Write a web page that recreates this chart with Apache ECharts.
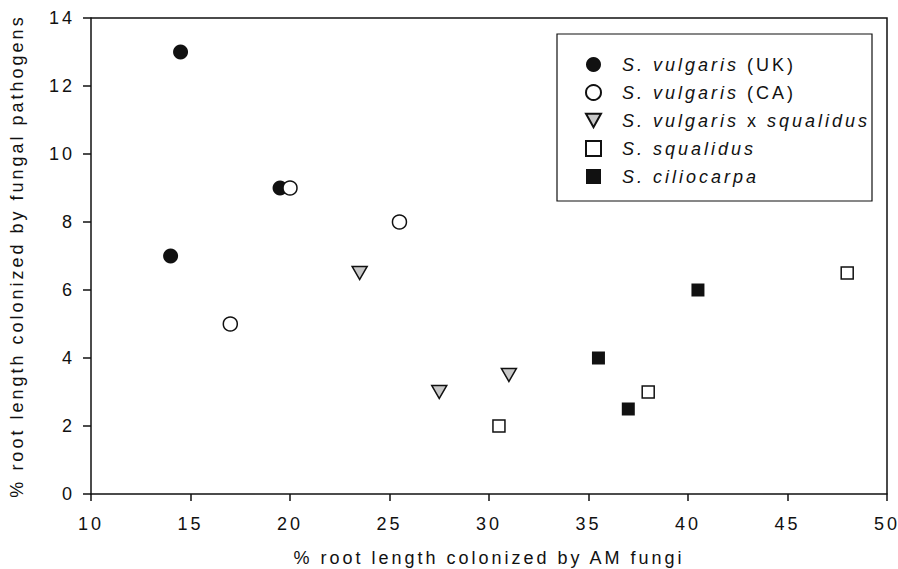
<!DOCTYPE html>
<html>
<head>
<meta charset="utf-8">
<script src="https://cdn.jsdelivr.net/npm/echarts@6/dist/echarts.min.js"></script>
<style>
  html, body { margin: 0; padding: 0; background: #fff; }
  #chart { width: 898px; height: 569px; }
  /* the original figure uses wide letter spacing */
  #chart text { letter-spacing: 3px; }
</style>
</head>
<body>
<div id="chart"></div>
<script>
// values: [AM fungi %, fungal pathogens %]
var vulgarisUK = [[14.5, 13], [19.5, 9], [14, 7]];
var vulgarisCA = [[20, 9], [25.5, 8], [17, 5]];
var hybrid = [[23.5, 6.5], [27.5, 3], [31, 3.5]];
var squalidus = [[30.5, 2], [38, 3], [48, 6.5]];
var ciliocarpa = [[35.5, 4], [37, 2.5], [40.5, 6]];

var xTicks = [10, 15, 20, 25, 30, 35, 40, 45, 50];
var yTicks = [0, 2, 4, 6, 8, 10, 12, 14];

var font = '"Liberation Sans", Arial, sans-serif';
var spacing = '3px';
var downTri = 'path://M0,0 L10,0 L5,9 Z';

// measure text with the same letter spacing so rich text pieces line up
var measureCtx = document.createElement('canvas').getContext('2d');
echarts.setPlatformAPI({
  measureText: function (text, f) {
    measureCtx.font = f || '12px sans-serif';
    measureCtx.letterSpacing = spacing;
    return measureCtx.measureText(text);
  }
});

var chartDom = document.getElementById('chart');
var myChart = echarts.init(chartDom, null, { renderer: 'svg' });

function mk(name, data, symbol, size, fill) {
  return {
    name: name,
    type: 'scatter',
    data: data,
    symbol: symbol,
    symbolSize: size,
    itemStyle: {
      color: fill,
      borderColor: '#111',
      borderWidth: fill === '#111' ? 0 : 1.5,
      opacity: 1
    },
    emphasis: { disabled: true }
  };
}

var labels = {
  'S. vulgaris (UK)': '{i|S. vulgaris} {n|(UK)}',
  'S. vulgaris (CA)': '{i|S. vulgaris} {n|(CA)}',
  'S. vulgaris x squalidus': '{i|S. vulgaris} {n|x} {i|squalidus}',
  'S. squalidus': '{i|S. squalidus}',
  'S. ciliocarpa': '{i|S. ciliocarpa}'
};

var option = {
  animation: false,
  textStyle: { fontFamily: font },
  grid: { left: 91, right: 11, top: 18, bottom: 75, outerBoundsMode: 'none' },
  xAxis: {
    type: 'value',
    min: xTicks[0],
    max: xTicks[xTicks.length - 1],
    interval: 5,
    name: '% root length colonized by AM fungi',
    nameLocation: 'middle',
    nameGap: 53,
    nameTextStyle: { fontSize: 18, color: '#111', fontFamily: font },
    axisLine: { show: true, lineStyle: { color: '#111', width: 1.5 } },
    axisTick: { show: true, inside: false, length: 7, lineStyle: { color: '#111', width: 1.5 } },
    axisLabel: { fontSize: 18, color: '#111', margin: 19, fontFamily: font },
    splitLine: { show: false }
  },
  yAxis: {
    type: 'value',
    min: yTicks[0],
    max: yTicks[yTicks.length - 1],
    interval: 2,
    name: '% root length colonized by fungal pathogens',
    nameLocation: 'middle',
    nameGap: 64,
    nameTextStyle: { fontSize: 18, color: '#111', fontFamily: font },
    axisLine: { show: true, lineStyle: { color: '#111', width: 1.5 } },
    axisTick: { show: true, inside: false, length: 8, lineStyle: { color: '#111', width: 1.5 } },
    axisLabel: { fontSize: 18, color: '#111', margin: 16, fontFamily: font },
    splitLine: { show: false }
  },
  graphic: [
    {
      type: 'rect',
      shape: { x: 557, y: 34, width: 315, height: 167 },
      style: { fill: '#fff', stroke: '#111', lineWidth: 1.2 },
      z: 5
    },
    {
      // top and right frame of the plot area
      type: 'polyline',
      shape: { points: [[91, 18], [887, 18], [887, 494]] },
      style: { stroke: '#111', lineWidth: 1.5, fill: null },
      z: 4
    }
  ],
  legend: {
    orient: 'vertical',
    left: 580,
    top: 49,
    itemWidth: 15,
    itemHeight: 15,
    itemGap: 7,
    z: 10,
    inactiveColor: '#111',
    selectedMode: false,
    formatter: function (name) { return labels[name]; },
    textStyle: {
      fontSize: 18,
      lineHeight: 18,
      padding: [0, 0, 0, 16],
      rich: {
        i: { fontSize: 18, fontStyle: 'italic', color: '#111', fontFamily: font, lineHeight: 18 },
        n: { fontSize: 18, color: '#111', fontFamily: font, lineHeight: 18 }
      }
    },
    data: ['S. vulgaris (UK)', 'S. vulgaris (CA)', 'S. vulgaris x squalidus', 'S. squalidus', 'S. ciliocarpa']
  },
  series: [
    mk('S. vulgaris (UK)', vulgarisUK, 'circle', 15, '#111'),
    mk('S. vulgaris (CA)', vulgarisCA, 'circle', 14, '#fff'),
    mk('S. vulgaris x squalidus', hybrid, downTri, [15, 13], '#c8c8c8'),
    mk('S. squalidus', squalidus, 'rect', 12, '#fff'),
    mk('S. ciliocarpa', ciliocarpa, 'rect', 13, '#111')
  ]
};
option && myChart.setOption(option);
</script>
</body>
</html>
